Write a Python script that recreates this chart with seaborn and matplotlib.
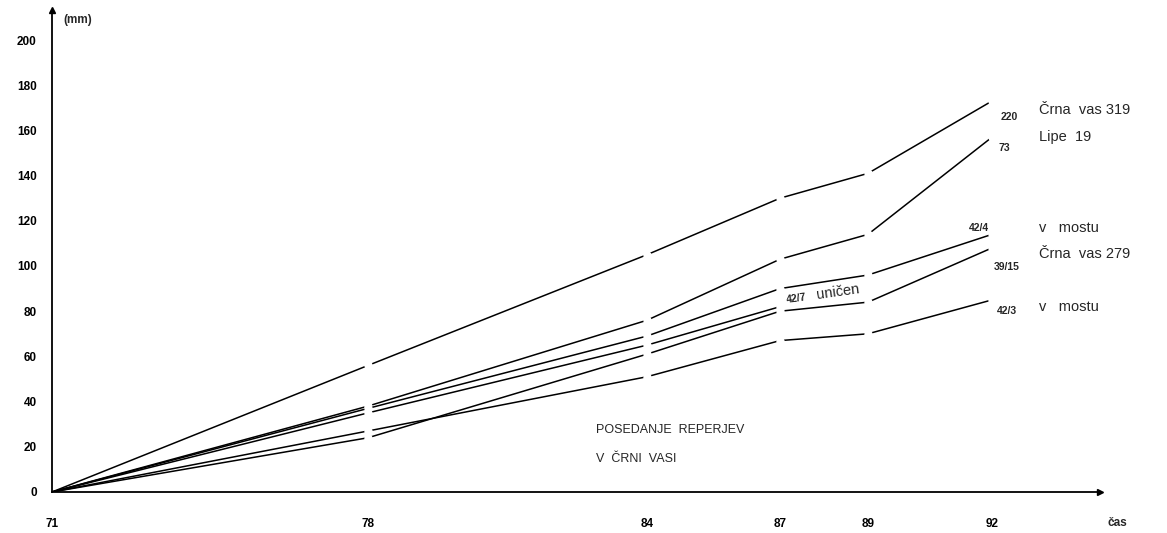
import matplotlib
matplotlib.use("Agg")
import matplotlib.pyplot as plt
import numpy as np
import pandas as pd
import seaborn as sns

# ---- data (mm of settlement per year) ----
years = [71, 78, 84, 87, 89, 92]
s_220 = [0, 56, 105, 130, 141, 173]      # Črna vas 319
s_73 = [0, 38, 76, 103, 114, 157]        # Lipe 19
s_42_4 = [0, 37, 69, 90, 96, 114]        # v mostu
s_42_7 = [0, 35, 65, 82]                 # uničen
s_39_15 = [0, 24, 61, 80, 84, 108]       # Črna vas 279
s_42_3 = [0, 27, 51, 67, 70, 85]         # v mostu

series_names = ["220", "73", "42/4", "42/7", "39/15", "42/3"]
series_vals = [s_220, s_73, s_42_4, s_42_7, s_39_15, s_42_3]

y_ticks = [0, 20, 40, 60, 80, 100, 120, 140, 160, 180, 200]
x_ticks = [71, 78, 84, 87, 89, 92]

rows = []
for name, vals in zip(series_names, series_vals):
    for yr, v in zip(years, vals):
        rows.append({"series": name, "year": yr, "mm": v})
df = pd.DataFrame(rows)

# hand-drawn time axis: tick spacing of the original drawing (relative units)
axis_knots_year = [60, 71, 78, 84, 87, 89, 92, 100]
axis_knots_pos = [-495.0, 0.0, 316.0, 595.0, 728.0, 816.0, 940.0, 1296.0]


def fwd(x):
    return np.interp(x, axis_knots_year, axis_knots_pos)


def inv(p):
    return np.interp(p, axis_knots_pos, axis_knots_year)


sns.set_style("white")
plt.rcParams["font.family"] = ["Liberation Sans", "DejaVu Sans"]

W, H = 1167, 533
fig = plt.figure(figsize=(W / 100, H / 100), dpi=100)
fig.patch.set_facecolor("white")
ax = fig.add_axes([52 / W, 41 / H, 1048 / W, 482 / H])
ax.set_xscale("function", functions=(fwd, inv))

for name in series_names:
    sub = df[df["series"] == name]
    n = len(sub)
    sns.lineplot(data=sub, x="year", y="mm", ax=ax, color="black", lw=1.1,
                 marker="o", markersize=6, markerfacecolor="white",
                 markeredgewidth=0, markevery=list(range(1, n)),
                 legend=False, estimator=None, sort=False)

ax.set_xlim(71, inv(1048.0))
ax.set_ylim(0, 482 / 2.26)

for s in ["top", "right"]:
    ax.spines[s].set_visible(False)
for s in ["left", "bottom"]:
    ax.spines[s].set_color("black")
    ax.spines[s].set_linewidth(1.3)

# arrowheads
ax.plot(1, 0, ">", color="black", ms=5, transform=ax.transAxes, clip_on=False)
ax.plot(0, 1, "^", color="black", ms=5, transform=ax.transAxes, clip_on=False)

ax.set_yticks(y_ticks)
ax.set_yticklabels([str(v) for v in y_ticks])
ax.set_xticks(x_ticks)
ax.set_xticklabels([str(v) for v in x_ticks])
ax.xaxis.set_minor_locator(matplotlib.ticker.NullLocator())
ax.tick_params(axis="y", direction="inout", length=8, width=1, colors="black",
               labelsize=8.5, pad=7)
ax.tick_params(axis="x", direction="inout", length=10, width=1, colors="black",
               labelsize=8.5, pad=14)
for lab in ax.get_xticklabels() + ax.get_yticklabels():
    lab.set_fontweight("bold")
ax.set_xlabel("")
ax.set_ylabel("")
ax.grid(False)

# axis titles
ax.text(71.25, 209, "(mm)", fontsize=8.5, fontweight="bold",
        va="center", ha="left", clip_on=False)
ax.text(94.6, -13.5, "čas", fontsize=8.5, fontweight="bold", va="center",
        ha="left", clip_on=False)

# right-side labels
small = dict(fontsize=7.5, fontweight="bold", va="center", ha="left")
big = dict(fontsize=10.5, va="center", ha="left")
ax.text(92.2, 166, "220", **small)
ax.text(93.05, 169, "Črna  vas 319", **big)
ax.text(93.05, 157, "Lipe  19", **big)
ax.text(92.15, 152, "73", **small)
ax.text(91.45, 117, "42/4", **small)
ax.text(93.05, 117, "v   mostu", **big)
ax.text(93.05, 105.5, "Črna  vas 279", **big)
ax.text(92.05, 99.5, "39/15", **small)
ax.text(92.1, 80, "42/3", **small)
ax.text(93.05, 82, "v   mostu", **big)

ax.text(87.15, 83.5, "42/7", fontsize=7.5, fontweight="bold", rotation=8,
        rotation_mode="anchor", va="baseline", ha="left")
ax.text(87.85, 85.5, "uničen", fontsize=10.5, rotation=8,
        rotation_mode="anchor", va="baseline", ha="left")

ax.text(82.9, 27.5, "POSEDANJE  REPERJEV", fontsize=9, va="center", ha="left")
ax.text(82.9, 14.5, "V  ČRNI  VASI", fontsize=9, va="center", ha="left")

fig.savefig("out.png", dpi=100, facecolor="white")
